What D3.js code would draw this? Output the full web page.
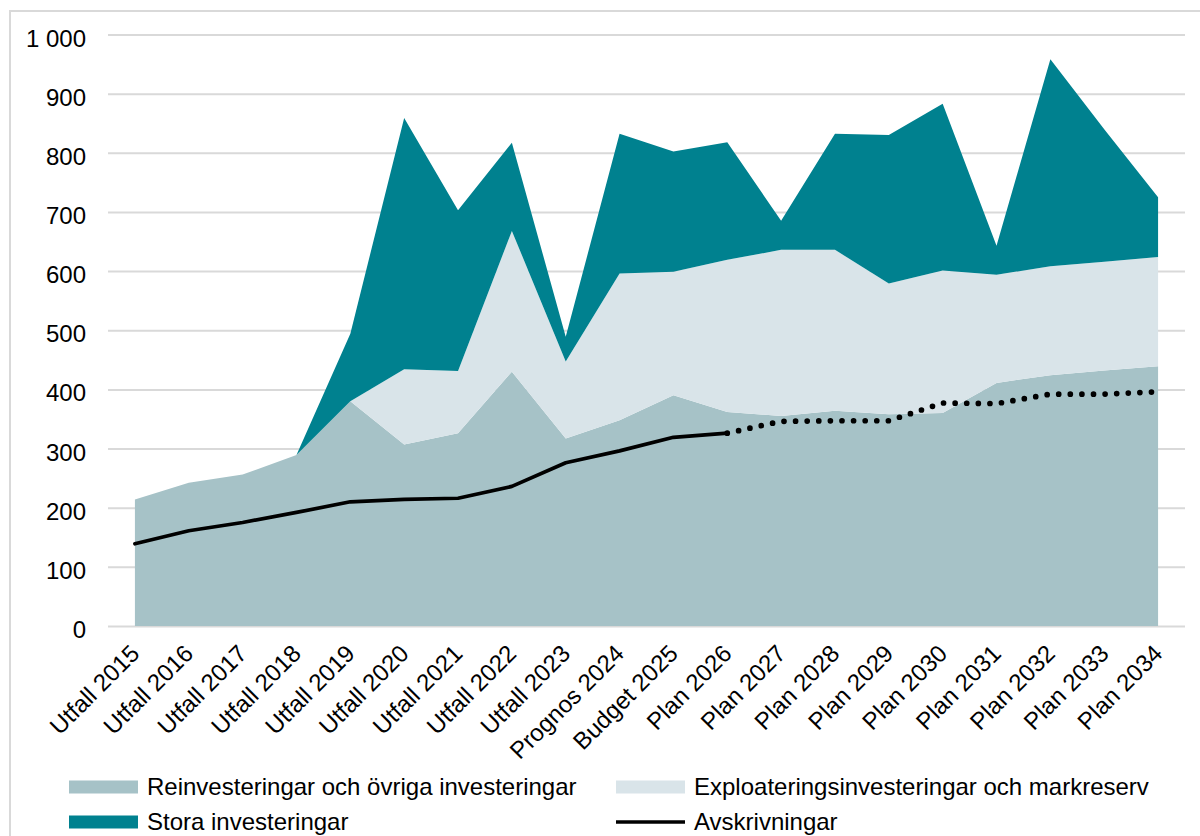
<!DOCTYPE html>
<html>
<head>
<meta charset="utf-8">
<script src="https://cdn.jsdelivr.net/npm/d3@7"></script>
<style>
  html, body { margin: 0; padding: 0; background: #ffffff; }
  svg { display: block; font-family: "Liberation Sans", Arial, sans-serif; }
</style>
</head>
<body>
<svg id="chart" width="1200" height="836"></svg>
<script>
const categories = ["Utfall 2015","Utfall 2016","Utfall 2017","Utfall 2018","Utfall 2019","Utfall 2020","Utfall 2021","Utfall 2022","Utfall 2023","Prognos 2024","Budget 2025","Plan 2026","Plan 2027","Plan 2028","Plan 2029","Plan 2030","Plan 2031","Plan 2032","Plan 2033","Plan 2034"];
const reinvesteringar = [214, 242, 256, 289, 380, 307, 326, 430, 317, 348, 390, 362, 355, 364, 358, 360, 411, 424, 432, 439];
const exploatering   = [0, 0, 0, 0, 0, 127, 105, 238, 130, 248, 209, 257, 281, 272, 221, 241, 183, 184, 184, 185];
const stora          = [0, 0, 0, 0, 114, 425, 272, 149, 42, 236, 203, 199, 49, 196, 251, 282, 49, 350, 224, 101];
const avskrivningar     = [139, 161, 175, 192, 210, 214, 216, 236, 276, 296, 319, 326];
const avskrivningarPlan = [326, 346, 347, 347, 377, 376, 392, 392, 396];
const yTicks = [0, 100, 200, 300, 400, 500, 600, 700, 800, 900, 1000];
const seriesNames = ["Reinvesteringar och övriga investeringar", "Exploateringsinvesteringar och markreserv", "Stora investeringar", "Avskrivningar"];

const colors = { reinv: "#a6c2c7", expl: "#d9e4e9", stora: "#00818f", line: "#000000", grid: "#d9d9d9" };

const svg = d3.select("#chart");
const plotLeft = 108, plotRight = 1185, plotTop = 34.5, plotBottom = 626;

// frame
svg.append("rect").attr("x", 10).attr("y", 11).attr("width", 1300).attr("height", 1000)
  .attr("fill", "none").attr("stroke", colors.grid).attr("stroke-width", 2);

const x = d3.scaleBand().domain(categories).range([plotLeft, plotRight]).padding(0);
const xc = d => x(d) + x.bandwidth() / 2;
const y = d3.scaleLinear().domain([0, 1000]).range([plotBottom, plotTop]);

const locale = d3.formatLocale({ decimal: ",", thousands: " ", grouping: [3], currency: ["", ""] });
const fmt = locale.format(",");

// y axis + gridlines
const yAxis = svg.append("g").attr("transform", `translate(${plotLeft},0)`)
  .call(d3.axisLeft(y).tickValues(yTicks).tickFormat(fmt).tickSize(-(plotRight - plotLeft)).tickPadding(22));
yAxis.select(".domain").remove();
yAxis.selectAll(".tick line").attr("stroke", colors.grid).attr("stroke-width", 2);
yAxis.selectAll(".tick text").attr("font-size", 24).attr("fill", "#000").attr("dy", "0.48em")
  .attr("font-family", "Liberation Sans, Arial, sans-serif");

// stacked areas
const rows = categories.map((c, i) => ({ cat: c, reinv: reinvesteringar[i], expl: exploatering[i], stora: stora[i] }));
const stack = d3.stack().keys(["reinv", "expl", "stora"]);
const layers = stack(rows);
const area = d3.area().x(d => xc(d.data.cat)).y0(d => y(d[0])).y1(d => y(d[1]));
svg.append("g").selectAll("path").data(layers).join("path")
  .attr("d", area).attr("fill", d => colors[d.key]);

// lines
const line = d3.line().x(d => xc(d.cat)).y(d => y(d.v));
const solidData = avskrivningar.map((v, i) => ({ cat: categories[i], v }));
const planStart = categories.length - avskrivningarPlan.length;
const dotData = avskrivningarPlan.map((v, i) => ({ cat: categories[planStart + i], v }));
svg.append("path").attr("d", line(solidData)).attr("fill", "none")
  .attr("stroke", colors.line).attr("stroke-width", 3.7).attr("stroke-linejoin", "round").attr("stroke-linecap", "round");
svg.append("path").attr("d", line(dotData)).attr("fill", "none")
  .attr("stroke", colors.line).attr("stroke-width", 5.7).attr("stroke-linecap", "round")
  .attr("stroke-dasharray", "0 11.6").attr("stroke-dashoffset", 0);

// x axis labels
const xAxis = svg.append("g").attr("transform", `translate(0,${plotBottom})`)
  .call(d3.axisBottom(x).tickSize(0));
xAxis.select(".domain").remove();
xAxis.selectAll(".tick text")
  .attr("x", 0).attr("y", 0).attr("dy", "0.35em")
  .attr("transform", "translate(0,23) rotate(-45)")
  .style("text-anchor", "end")
  .attr("font-size", 24).attr("fill", "#000")
  .attr("font-family", "Liberation Sans, Arial, sans-serif");

// legend
const legend = [
  { name: seriesNames[0], type: "rect", color: colors.reinv, x: 69, y: 787 },
  { name: seriesNames[1], type: "rect", color: colors.expl, x: 616, y: 787 },
  { name: seriesNames[2], type: "rect", color: colors.stora, x: 69, y: 822 },
  { name: seriesNames[3], type: "line", color: colors.line, x: 616, y: 822 }
];
const lg = svg.append("g").selectAll("g").data(legend).join("g")
  .attr("transform", d => `translate(${d.x},${d.y})`);
lg.filter(d => d.type === "rect").append("rect")
  .attr("x", 0).attr("y", -6.5).attr("width", 69).attr("height", 13).attr("fill", d => d.color);
lg.filter(d => d.type === "line").append("line")
  .attr("x1", 0).attr("x2", 69).attr("y1", 0).attr("y2", 0)
  .attr("stroke", d => d.color).attr("stroke-width", 3.7);
lg.append("text").attr("x", 78).attr("y", 0).attr("dy", "0.35em")
  .attr("font-size", 24).attr("fill", "#000").text(d => d.name);
</script>
</body>
</html>
